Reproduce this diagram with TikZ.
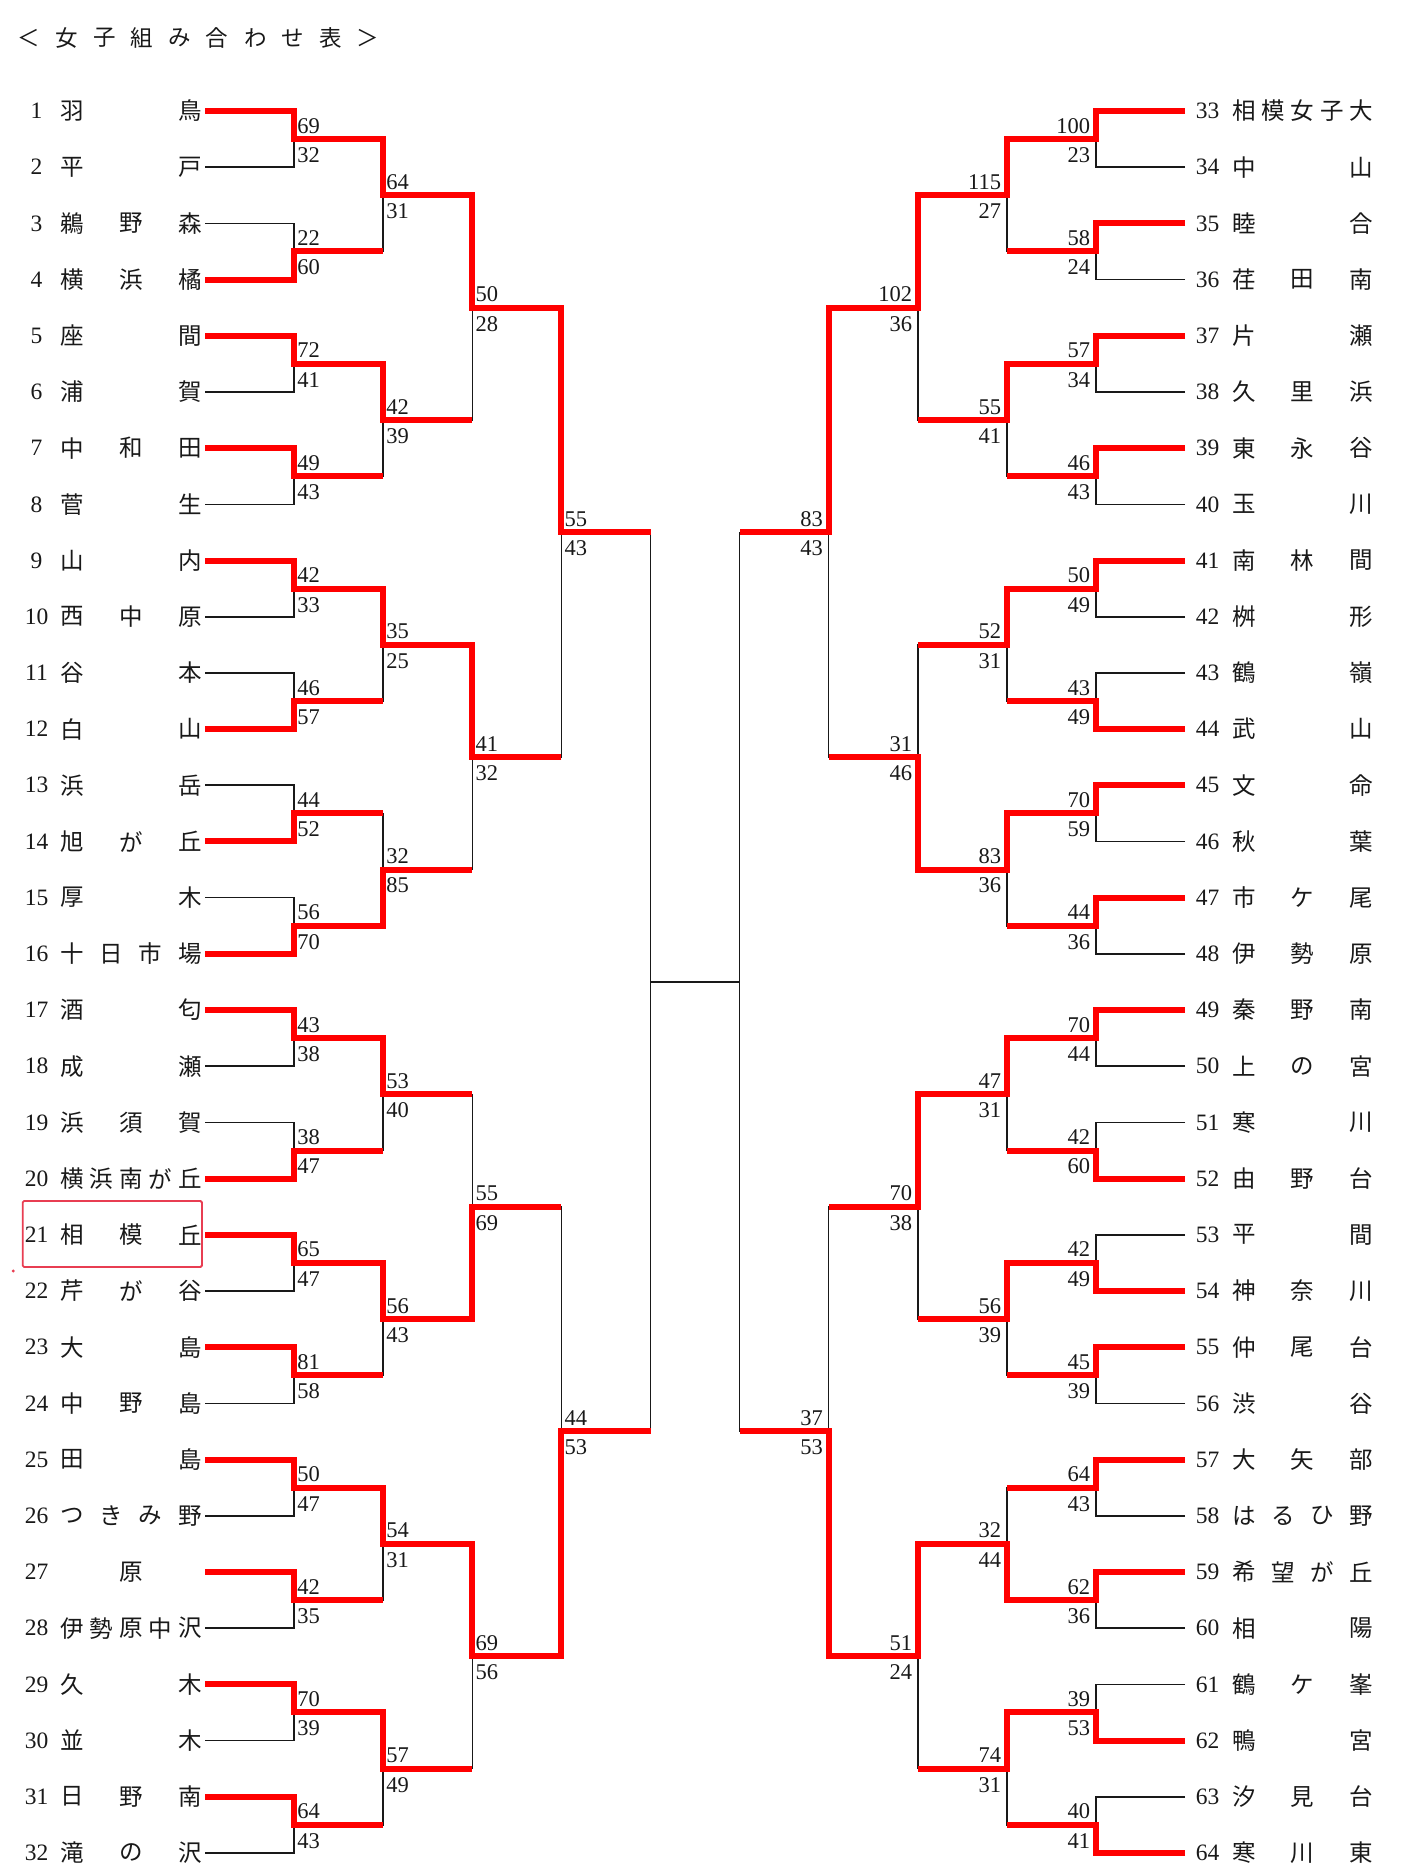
\documentclass[tikz,border=0pt]{standalone}
\usepackage{fontspec}
\setmainfont{Liberation Serif}
\newfontfamily\jpfont{Noto Sans CJK JP}
\usetikzlibrary{calc}
\pgfdeclarelayer{paper}
\pgfdeclarelayer{bg}
\pgfsetlayers{paper,bg,main}
\definecolor{winred}{RGB}{255,0,0}
\definecolor{boxred}{RGB}{232,62,82}
\definecolor{ink}{RGB}{25,25,25}

\newcommand\mtch[6]{%
  \pgfmathtruncatemacro\rc{#2-1}%
  \pgfmathtruncatemacro\ka{2*#3-1}%
  \pgfmathtruncatemacro\kb{2*#3}%
  \pgfmathtruncatemacro\rp{#2+1}%
  \pgfmathtruncatemacro\kp{ceil(#3/2)}%
  \ifcase#6\relax
    \begin{pgfonlayer}{bg}
      \draw[blk] (#1\rc k\ka) -- (#1\rc k\ka -| #1#2k#3) -- (#1\rc k\kb -| #1#2k#3) -- (#1\rc k\kb);
    \end{pgfonlayer}
  \or
    \begin{pgfonlayer}{bg}
      \draw[blk] (#1\rc k\kb) -- (#1\rc k\kb -| #1#2k#3) -- (#1#2k#3);
    \end{pgfonlayer}
    \draw[redl] (#1\rc k\ka) -- (#1\rc k\ka -| #1#2k#3) -- (#1#2k#3) -- (#1#2k#3 -| #1\rp k\kp);
  \or
    \begin{pgfonlayer}{bg}
      \draw[blk] (#1\rc k\ka) -- (#1\rc k\ka -| #1#2k#3) -- (#1#2k#3);
    \end{pgfonlayer}
    \draw[redl] (#1\rc k\kb) -- (#1\rc k\kb -| #1#2k#3) -- (#1#2k#3) -- (#1#2k#3 -| #1\rp k\kp);
  \fi
  \ifnum#6>0
    \if L#1
      \node[scoref, anchor=base west] (s#1#2k#3a) at ($(#1#2k#3)+(3,-6)$) {#4};
      \node[scoref, anchor=base west] (s#1#2k#3b) at ($(#1#2k#3)+(3,23.4)$) {#5};
    \else
      \node[scoref, anchor=base east] (s#1#2k#3a) at ($(#1#2k#3)+(-5.5,-6)$) {#4};
      \node[scoref, anchor=base east] (s#1#2k#3b) at ($(#1#2k#3)+(-5.5,23.4)$) {#5};
    \fi
  \fi
}

\newcommand\tmL[3]{%
  \pgfmathsetmacro\ty{111+(#1-1)*56.19}%
  \node[numf] (numL#1) at (36.5,\ty) {#1};
  \foreach \ch [count=\j] in {#3} {
    \pgfmathsetmacro\tx{(#2==1) ? 131 : 72+(\j-1)*118/max(#2-1,1)}
    \node[namef] (nmL#1c\j) at (\tx,\ty) {\ch};
  }
}
\newcommand\tmR[3]{%
  \pgfmathsetmacro\ty{111+(#1-1)*56.19}%
  \pgfmathtruncatemacro\tn{#1+32}%
  \node[numf] (numR#1) at (1207.5,\ty) {\tn};
  \foreach \ch [count=\j] in {#3} {
    \pgfmathsetmacro\tx{(#2==1) ? 1302.5 : 1244+(\j-1)*117/max(#2-1,1)}
    \node[namef] (nmR#1c\j) at (\tx,\ty) {\ch};
  }
}

\begin{document}
\begin{tikzpicture}[x=1pt,y=-1pt,
  blk/.style={line width=1.6pt, ink},
  redl/.style={line width=6pt, winred, line join=miter},
  numf/.style={font=\fontsize{23.5}{25}\selectfont, inner sep=0pt, text=ink},
  namef/.style={font=\jpfont\fontsize{23.5}{25}\selectfont, inner sep=0pt, text=ink},
  scoref/.style={font=\fontsize{22.5}{24}\selectfont, inner sep=0pt, text=ink},
  titlef/.style={font=\jpfont\fontsize{22.5}{25}\selectfont, inner sep=0pt, text=ink},
]
\useasboundingbox (0,0) rectangle (1409,1875);
\begin{pgfonlayer}{paper}
\fill[white] (0,0) rectangle (1409,1875);
\end{pgfonlayer}

% title
\foreach \ch/\xx [count=\j] in {＜/29, 女/67, 子/105, 組/142, み/180, 合/217, わ/256, せ/293, 表/331, ＞/368}
  \node[titlef] (title\j) at (\xx,38) {\ch};

% bracket coordinates
\foreach \ii in {1,...,32} {
  \pgfmathsetmacro\yy{111+(\ii-1)*56.19}
  \coordinate (L0k\ii) at (205,\yy);
  \coordinate (R0k\ii) at (1185,\yy);
}
\foreach \rr in {1,...,5} {
  \pgfmathtruncatemacro\nn{2^(5-\rr)}
  \pgfmathsetmacro\xl{205+\rr*89.1}
  \pgfmathsetmacro\xr{1185-\rr*89.1}
  \foreach \kk in {1,...,\nn} {
    \pgfmathsetmacro\yy{111+((\kk-1)*2^\rr+(2^\rr-1)/2)*56.19}
    \coordinate (L\rr k\kk) at (\xl,\yy);
    \coordinate (R\rr k\kk) at (\xr,\yy);
  }
}

% left side
\mtch{L}{1}{1}{69}{32}{1}
\mtch{L}{1}{2}{22}{60}{2}
\mtch{L}{1}{3}{72}{41}{1}
\mtch{L}{1}{4}{49}{43}{1}
\mtch{L}{1}{5}{42}{33}{1}
\mtch{L}{1}{6}{46}{57}{2}
\mtch{L}{1}{7}{44}{52}{2}
\mtch{L}{1}{8}{56}{70}{2}
\mtch{L}{1}{9}{43}{38}{1}
\mtch{L}{1}{10}{38}{47}{2}
\mtch{L}{1}{11}{65}{47}{1}
\mtch{L}{1}{12}{81}{58}{1}
\mtch{L}{1}{13}{50}{47}{1}
\mtch{L}{1}{14}{42}{35}{1}
\mtch{L}{1}{15}{70}{39}{1}
\mtch{L}{1}{16}{64}{43}{1}
\mtch{L}{2}{1}{64}{31}{1}
\mtch{L}{2}{2}{42}{39}{1}
\mtch{L}{2}{3}{35}{25}{1}
\mtch{L}{2}{4}{32}{85}{2}
\mtch{L}{2}{5}{53}{40}{1}
\mtch{L}{2}{6}{56}{43}{1}
\mtch{L}{2}{7}{54}{31}{1}
\mtch{L}{2}{8}{57}{49}{1}
\mtch{L}{3}{1}{50}{28}{1}
\mtch{L}{3}{2}{41}{32}{1}
\mtch{L}{3}{3}{55}{69}{2}
\mtch{L}{3}{4}{69}{56}{1}
\mtch{L}{4}{1}{55}{43}{1}
\mtch{L}{4}{2}{44}{53}{2}
\mtch{L}{5}{1}{}{}{0}

% right side
\mtch{R}{1}{1}{100}{23}{1}
\mtch{R}{1}{2}{58}{24}{1}
\mtch{R}{1}{3}{57}{34}{1}
\mtch{R}{1}{4}{46}{43}{1}
\mtch{R}{1}{5}{50}{49}{1}
\mtch{R}{1}{6}{43}{49}{2}
\mtch{R}{1}{7}{70}{59}{1}
\mtch{R}{1}{8}{44}{36}{1}
\mtch{R}{1}{9}{70}{44}{1}
\mtch{R}{1}{10}{42}{60}{2}
\mtch{R}{1}{11}{42}{49}{2}
\mtch{R}{1}{12}{45}{39}{1}
\mtch{R}{1}{13}{64}{43}{1}
\mtch{R}{1}{14}{62}{36}{1}
\mtch{R}{1}{15}{39}{53}{2}
\mtch{R}{1}{16}{40}{41}{2}
\mtch{R}{2}{1}{115}{27}{1}
\mtch{R}{2}{2}{55}{41}{1}
\mtch{R}{2}{3}{52}{31}{1}
\mtch{R}{2}{4}{83}{36}{1}
\mtch{R}{2}{5}{47}{31}{1}
\mtch{R}{2}{6}{56}{39}{1}
\mtch{R}{2}{7}{32}{44}{2}
\mtch{R}{2}{8}{74}{31}{1}
\mtch{R}{3}{1}{102}{36}{1}
\mtch{R}{3}{2}{31}{46}{2}
\mtch{R}{3}{3}{70}{38}{1}
\mtch{R}{3}{4}{51}{24}{1}
\mtch{R}{4}{1}{83}{43}{1}
\mtch{R}{4}{2}{37}{53}{2}
\mtch{R}{5}{1}{}{}{0}

% final connector
\draw[blk] (L5k1) -- (R5k1);

% left teams
\tmL{1}{2}{羽,鳥}
\tmL{2}{2}{平,戸}
\tmL{3}{3}{鵜,野,森}
\tmL{4}{3}{横,浜,橘}
\tmL{5}{2}{座,間}
\tmL{6}{2}{浦,賀}
\tmL{7}{3}{中,和,田}
\tmL{8}{2}{菅,生}
\tmL{9}{2}{山,内}
\tmL{10}{3}{西,中,原}
\tmL{11}{2}{谷,本}
\tmL{12}{2}{白,山}
\tmL{13}{2}{浜,岳}
\tmL{14}{3}{旭,が,丘}
\tmL{15}{2}{厚,木}
\tmL{16}{4}{十,日,市,場}
\tmL{17}{2}{酒,匂}
\tmL{18}{2}{成,瀬}
\tmL{19}{3}{浜,須,賀}
\tmL{20}{5}{横,浜,南,が,丘}
\tmL{21}{3}{相,模,丘}
\tmL{22}{3}{芹,が,谷}
\tmL{23}{2}{大,島}
\tmL{24}{3}{中,野,島}
\tmL{25}{2}{田,島}
\tmL{26}{4}{つ,き,み,野}
\tmL{27}{1}{原}
\tmL{28}{5}{伊,勢,原,中,沢}
\tmL{29}{2}{久,木}
\tmL{30}{2}{並,木}
\tmL{31}{3}{日,野,南}
\tmL{32}{3}{滝,の,沢}

% right teams
\tmR{1}{5}{相,模,女,子,大}
\tmR{2}{2}{中,山}
\tmR{3}{2}{睦,合}
\tmR{4}{3}{荏,田,南}
\tmR{5}{2}{片,瀬}
\tmR{6}{3}{久,里,浜}
\tmR{7}{3}{東,永,谷}
\tmR{8}{2}{玉,川}
\tmR{9}{3}{南,林,間}
\tmR{10}{2}{桝,形}
\tmR{11}{2}{鶴,嶺}
\tmR{12}{2}{武,山}
\tmR{13}{2}{文,命}
\tmR{14}{2}{秋,葉}
\tmR{15}{3}{市,ケ,尾}
\tmR{16}{3}{伊,勢,原}
\tmR{17}{3}{秦,野,南}
\tmR{18}{3}{上,の,宮}
\tmR{19}{2}{寒,川}
\tmR{20}{3}{由,野,台}
\tmR{21}{2}{平,間}
\tmR{22}{3}{神,奈,川}
\tmR{23}{3}{仲,尾,台}
\tmR{24}{2}{渋,谷}
\tmR{25}{3}{大,矢,部}
\tmR{26}{4}{は,る,ひ,野}
\tmR{27}{4}{希,望,が,丘}
\tmR{28}{2}{相,陽}
\tmR{29}{3}{鶴,ケ,峯}
\tmR{30}{2}{鴨,宮}
\tmR{31}{3}{汐,見,台}
\tmR{32}{3}{寒,川,東}

% highlight box and mark
\draw[boxred, line width=1.8pt, rounded corners=1.5pt] (22.7,1201) rectangle (202,1267);
\fill[boxred] (13.3,1271) circle (1.6);
\end{tikzpicture}
\end{document}
